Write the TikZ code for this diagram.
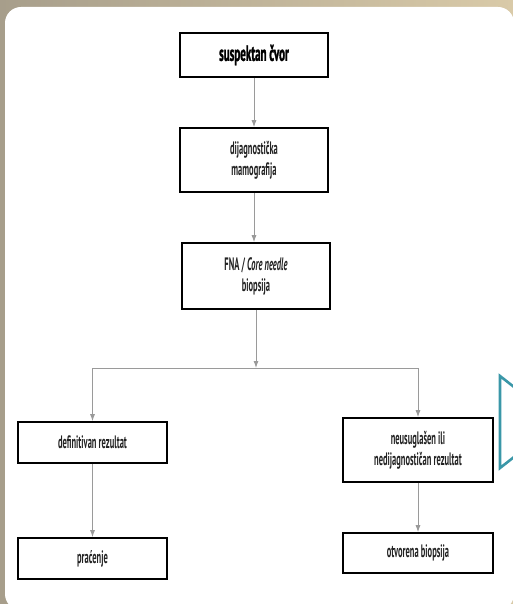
\documentclass[tikz,border=0pt]{standalone}
\usepackage{fontspec}
\setmainfont{PT Sans}[FakeStretch=0.47]
\newfontfamily\headfont{PT Sans Bold}[FakeStretch=0.5, FakeBold=1.2]
\usepackage{tikz}
\usepackage{color}

\definecolor{tanleft}{HTML}{A79E8B}
\definecolor{tanright}{HTML}{D9CAA8}
\definecolor{tealmark}{HTML}{3A97A8}
\definecolor{arrowgray}{HTML}{9A9A9A}
\definecolor{textgray}{HTML}{222222}

\tikzset{
  boxnode/.style={draw=black, line width=1.6pt, fill=white, align=center,
    inner sep=2pt, text=textgray, font=\fontsize{18}{21}\selectfont\bfseries},
  flowarrow/.style={draw=arrowgray, line width=0.9pt, -{Latex[length=7pt,width=5pt]}},
  flowline/.style={draw=arrowgray, line width=0.9pt},
}
\usetikzlibrary{arrows.meta}

\begin{document}
\begin{tikzpicture}[%
      x=1pt, y=-1pt,
      ]
      \useasboundingbox (0,0) rectangle (513,604);
      \clip (0,0) rectangle (513,604);
      % background panel
      \shade [left color=tanleft, right color=tanright] (0,0) rectangle (513,604);
      \fill [color=white, rounded corners=16pt] (5,7) rectangle (514,610);
      % teal mark at the right edge
      \draw [color=tealmark, line width=2.6pt, line join=miter] (514,387) -- (500,376) -- (500,468) -- (514,457);

      % boxes
      \node [boxnode, minimum width=148pt, minimum height=44pt, text=black,
        font=\fontsize{22}{24}\headfont] (cvor) at (254,55) {suspektan čvor};
      \node [boxnode, minimum width=148pt, minimum height=64pt] (mamo) at (254,160) {dijagnostička\\mamografija};
      \node [boxnode, minimum width=148pt, minimum height=66pt] (fna) at (256,276) {FNA / \textit{Core needle}\\biopsija};
      \node [boxnode, minimum width=149pt, minimum height=41pt] (defin) at (92.5,442.5) {definitivan rezultat};
      \node [boxnode, minimum width=149pt, minimum height=41pt] (pracenje) at (92.5,558.5) {praćenje};
      \node [boxnode, minimum width=150pt, minimum height=64pt] (neusug) at (418,450) {neusuglašen ili\\nedijagnostičan rezultat};
      \node [boxnode, minimum width=150pt, minimum height=40pt] (otvor) at (418,553) {otvorena biopsija};

      % split point
      \coordinate (split) at (256,368);
      \coordinate (splitL) at (92.5,368);
      \coordinate (splitR) at (418,368);

      \draw [flowarrow] (cvor) -- (mamo);
      \draw [flowarrow] (mamo.south) -- (mamo.south |- fna.north);
      \draw [flowarrow] (fna) -- (split);
      \draw [flowline] (splitL) -- (splitR);
      \draw [flowarrow] (splitL) -- (defin);
      \draw [flowarrow] (splitR) -- (neusug);
      \draw [flowarrow] (defin) -- (pracenje);
      \draw [flowarrow] (neusug) -- (otvor);
      \end{tikzpicture}
\end{document}
